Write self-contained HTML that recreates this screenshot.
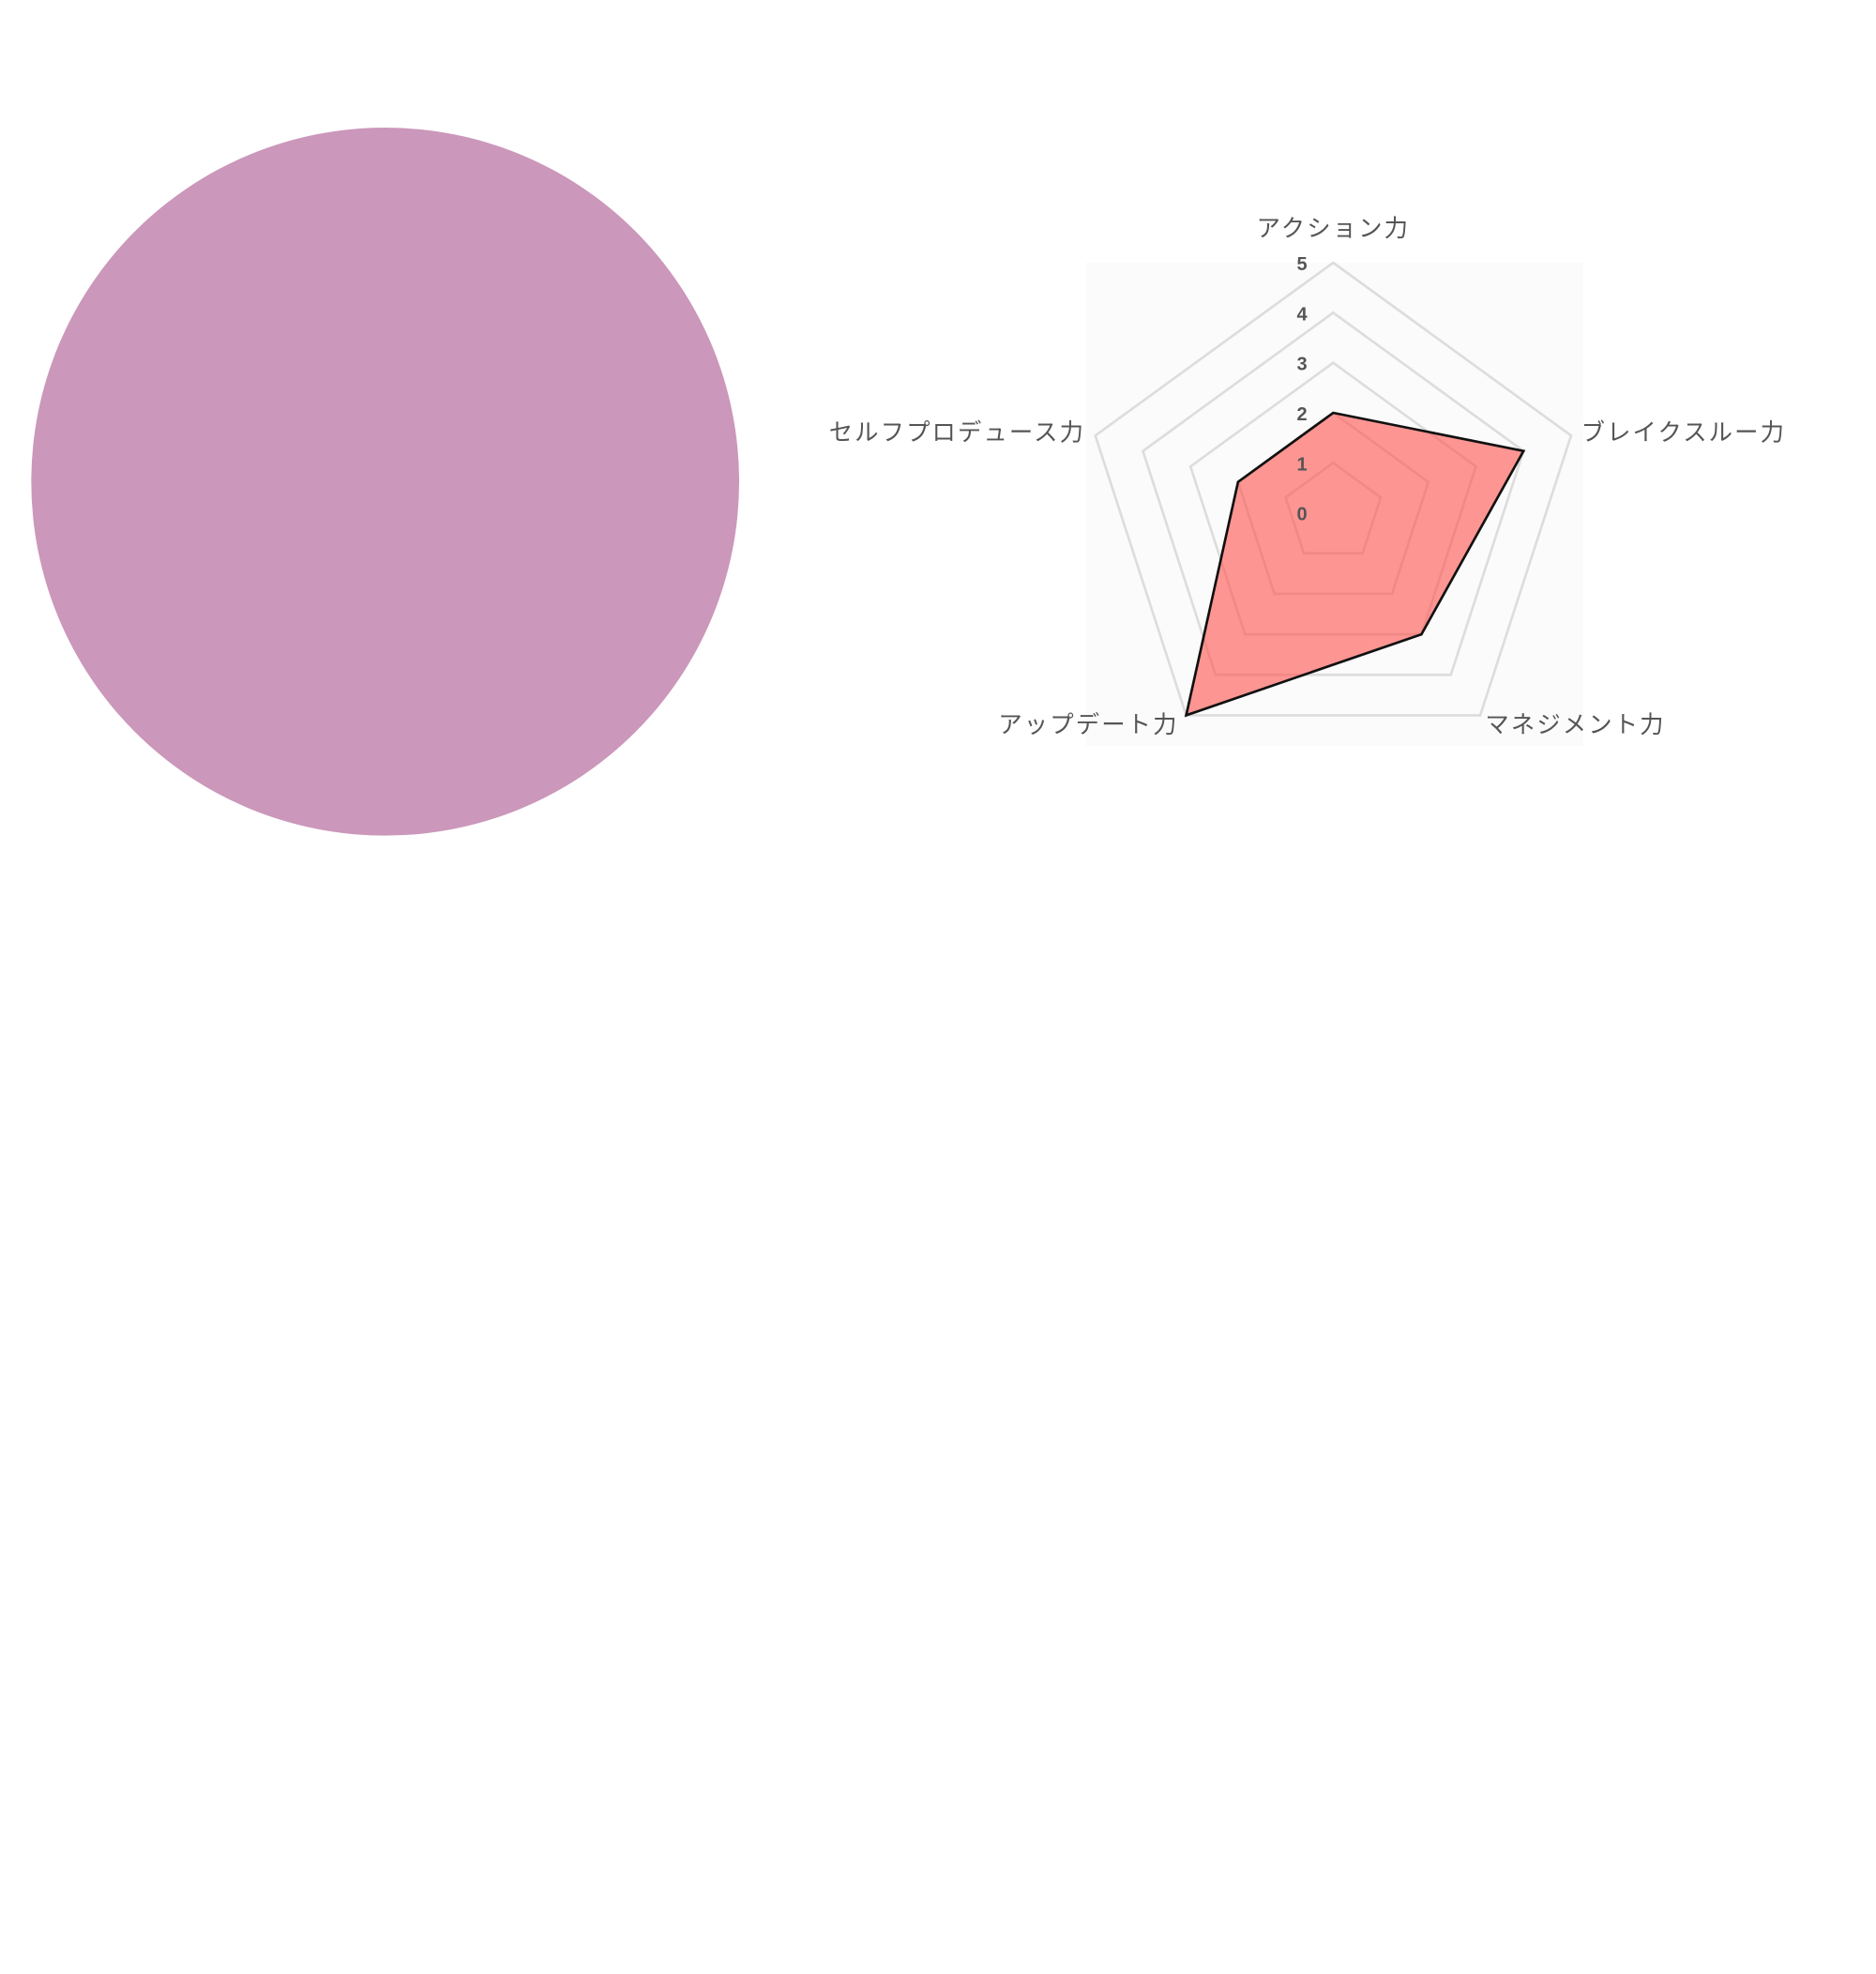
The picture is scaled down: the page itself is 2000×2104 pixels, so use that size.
<!DOCTYPE html>
<html><head><meta charset="utf-8"><style>
html,body{margin:0;padding:0;background:#fff;}
svg{display:block;font-family:"Liberation Sans","Noto Sans CJK JP",sans-serif;}
</style></head><body>
<svg id="chart" width="2000" height="2104" viewBox="0 0 1500 1578" xmlns="http://www.w3.org/2000/svg">
<circle cx="308" cy="385" r="283" fill="#cb97ba"/>
<rect x="868" y="210" width="398" height="386" fill="#fbfbfb"/>
<g id="grid"></g>
<g id="series"></g>
<g id="ticks"></g>
<g id="labels"></g>
</svg>
<script>
const categories=["アクション力","ブレイクスルー力","マネジメント力","アップデート力","セルフプロデュース力"];
const values=[2,4,3,5,2];
const tickLabels=[0,1,2,3,4,5];
const maxVal=5;
const cx=1066,cy=410,R=200;
const NS="http://www.w3.org/2000/svg";
function pt(i,v){const a=i*2*Math.PI/categories.length;const r=v/maxVal*R;return [cx+r*Math.sin(a),cy-r*Math.cos(a)];}
function mk(tag,attrs,parent){const e=document.createElementNS(NS,tag);for(const k in attrs)e.setAttribute(k,attrs[k]);parent.appendChild(e);return e;}
const grid=document.getElementById('grid');
for(let l=1;l<=maxVal;l++){
  const p=categories.map((c,i)=>pt(i,l).join(',')).join(' ');
  const g=mk('polygon',{points:p,fill:'none',stroke:'#dddddd','stroke-width':2},grid);
  
  
}
const series=document.getElementById('series');
const poly=mk('polygon',{points:values.map((v,i)=>pt(i,v).join(',')).join(' '),fill:'rgba(255,75,70,0.58)',stroke:'#111','stroke-width':2,'stroke-linejoin':'miter'},series);


const ticks=document.getElementById('ticks');
tickLabels.forEach(t=>{
  const y=cy-t/maxVal*R;
  const e=mk('text',{x:1041,y:y+6,'text-anchor':'middle','font-size':15,'font-weight':'bold',fill:'#555'},ticks);
  e.textContent=t;
  
  
});
const labels=document.getElementById('labels');
const anchors=['middle','start','start','end','end'];
const offs=[[0,-27],[8,-2],[4,8],[-6,8],[-8,-2]];
categories.forEach((c,i)=>{
  const [x,y]=pt(i,maxVal);
  const e=mk('text',{x:x+offs[i][0],y:y+offs[i][1]+6,'text-anchor':anchors[i],'font-size':19,fill:'#555','letter-spacing':1.6},labels);
  e.textContent=c;
  
  
});
</script>
</body></html>
